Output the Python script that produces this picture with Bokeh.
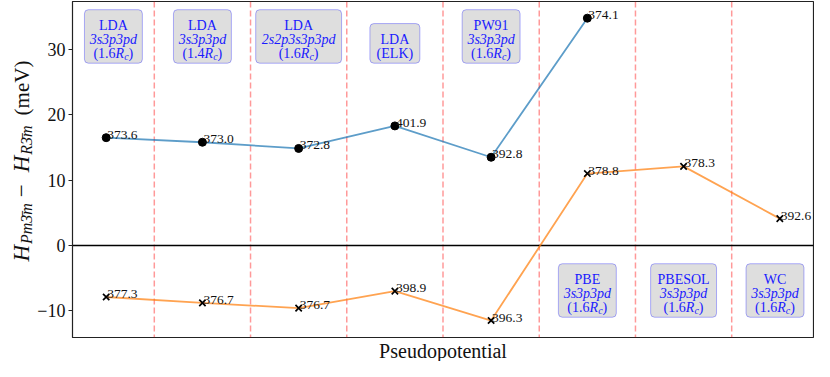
from bokeh.plotting import figure
from bokeh.models import Span, BoxAnnotation, Label, FixedTicker, Range1d, Title
from bokeh.layouts import row
from bokeh.embed import file_html
from bokeh.resources import INLINE
from bokeh.core.properties import value

# ---------------- data ----------------
categories = [0, 1, 2, 3, 4, 5, 6, 7]
blue_x = [0, 1, 2, 3, 4, 5]
blue_y = [16.5, 15.8, 14.85, 18.3, 13.5, 34.8]
blue_labels = ["373.6", "373.0", "372.8", "401.9", "392.8", "374.1"]
orange_x = [0, 1, 2, 3, 4, 5, 6, 7]
orange_y = [-7.9, -8.8, -9.6, -7.0, -11.5, 11.0, 12.1, 4.1]
orange_labels = ["377.3", "376.7", "376.7", "398.9", "396.3", "378.8", "378.3", "392.6"]
yticks = [-10, 0, 10, 20, 30]
ytick_labels = ["\u221210", "0", "10", "20", "30"]

box_x = [0.075, 1, 2, 3, 4, 5, 6, 6.95]
box_y = [27.9, 27.9, 27.9, 27.9, 27.9, -11.0, -11.0, -11.0]
box_title = ["LDA", "LDA", "LDA", "LDA", "PW91", "PBE", "PBESOL", "WC"]
box_config = ["3s3p3pd", "3s3p3pd", "2s2p3s3p3pd", "(ELK)", "3s3p3pd", "3s3p3pd", "3s3p3pd", "3s3p3pd"]
box_rc = ["1.6", "1.4", "1.6", None, "1.6", "1.6", "1.6", "1.6"]
box_width_px = [58, 58, 86, 50, 58, 58, 66, 58]

# ---------------- layout ----------------
LW = 34                      # width of the side strip holding the y-axis title
W, H = 814 - LW, 361
BL, BR, BT, BB = 37, 1, 1, 21
X0, X1 = -0.35, 7.35
Y0, Y1 = -14.1, 37.35
FONT = "Liberation Serif"
QFONT = "'Liberation Serif', serif"
pxx = (W - BL - BR) / (X1 - X0)
pxy = (H - BT - BB) / (Y1 - Y0)

p = figure(width=W, height=H, x_range=Range1d(X0, X1), y_range=Range1d(Y0, Y1),
           output_backend="svg", toolbar_location=None, title=None,
           min_border_left=BL, min_border_right=BR, min_border_top=BT, min_border_bottom=BB)
p.xaxis.visible = False
p.xgrid.visible = False
p.ygrid.visible = False
p.outline_line_color = "#222222"
p.outline_line_width = 1.2
p.outline_line_alpha = 1.0
p.background_fill_color = "white"
p.border_fill_color = "white"

p.add_layout(Title(text="Pseudopotential", align="center", text_font=QFONT,
                   text_font_size="20px", text_font_style="normal", text_color="#111111",
                   standoff=0, offset=0), "below")

ax = p.yaxis[0]
ax.ticker = FixedTicker(ticks=yticks)
ax.major_label_overrides = dict(zip(yticks, ytick_labels))
ax.major_label_text_font = QFONT
ax.major_label_text_font_size = "18px"
ax.major_label_text_color = "#111111"
ax.major_tick_out = 4
ax.major_tick_in = 0
ax.minor_tick_out = 0
ax.minor_tick_in = 0
ax.axis_line_color = "#222222"
ax.major_tick_line_color = "#222222"
ax.major_label_standoff = 3

# separators
for c in categories[:-1]:
    p.add_layout(Span(location=c + 0.5, dimension="height", line_color="red", line_alpha=0.4,
                      line_dash="6 3", line_width=1.5, level="underlay"))
p.add_layout(Span(location=0, dimension="width", line_color="black", line_width=1.5, level="underlay"))

# series
p.line(blue_x, blue_y, line_color="#1f77b4", line_alpha=0.72, line_width=1.8)
p.scatter(blue_x, blue_y, marker="circle", size=8, fill_color="black", line_color="black")
p.line(orange_x, orange_y, line_color="#ff7f0e", line_alpha=0.72, line_width=1.8)
p.scatter(orange_x, orange_y, marker="x", size=9, line_color="black", line_width=1.7)

p.text(blue_x, blue_y, text=blue_labels, text_font=value(FONT), text_font_size="13.5px",
       text_align="left", text_baseline="alphabetic", x_offset=1, y_offset=-3, text_color="#111111")
p.text(orange_x, orange_y, text=orange_labels, text_font=value(FONT), text_font_size="13.5px",
       text_align="left", text_baseline="alphabetic", x_offset=1, y_offset=-3, text_color="#111111")

# annotation boxes
BLUE = "#1a1aff"
for bx, by, t, cfg, rc, wpx in zip(box_x, box_y, box_title, box_config, box_rc, box_width_px):
    n = 3 if rc else 2
    hpx = 12 + 14 * n
    p.add_layout(BoxAnnotation(left=bx - wpx / 2 / pxx, right=bx + wpx / 2 / pxx,
                               bottom=by, top=by + hpx / pxy,
                               fill_color="#dedede", fill_alpha=1.0,
                               line_color="blue", line_alpha=0.3, line_width=1,
                               border_radius=4))
    lines = [(t, "normal"), (cfg, "normal" if cfg.startswith("(") else "italic")]
    for k, (txt, st) in enumerate(lines):
        p.add_layout(Label(x=bx, y=by, y_offset=10 + 14 * (n - 1 - k), text=txt,
                           text_font=FONT, text_font_size="14px", text_font_style=st,
                           text_color=BLUE, text_align="center", text_baseline="alphabetic"))
    if rc:
        x0 = -20
        pieces = [("(" + rc, "normal", "14px", 0, 22.2), ("R", "italic", "14px", 0, 8.6),
                  ("c", "italic", "10px", -3, 4.4), (")", "normal", "14px", 0, 4.7)]
        for txt, st, fs, dy, w in pieces:
            p.add_layout(Label(x=bx, y=by, x_offset=x0, y_offset=10 + dy, text=txt,
                               text_font=FONT, text_font_size=fs, text_font_style=st,
                               text_color=BLUE, text_align="left", text_baseline="alphabetic"))
            x0 += w

# y-axis title strip, built from pieces (rotated), centred on the plot frame
lab = figure(width=LW, height=H, x_range=Range1d(0, 1), y_range=Range1d(0, 1),
             output_backend="svg", toolbar_location=None, title=None,
             min_border=0, min_border_left=0, min_border_right=0, min_border_top=0, min_border_bottom=0)
lab.axis.visible = False
lab.grid.visible = False
lab.outline_line_color = None
lab.background_fill_color = "white"
lab.border_fill_color = "white"

# (text, style, size, baseline shift, gap before, advance)
ypieces = [("H", "italic", "23px", 0, 0, 17.5),
           ("Pm3\u0304m", "italic", "16px", 5, 0, 40.9),
           ("\u2212", "normal", "23px", 0, 6, 19.0),
           ("H", "italic", "23px", 0, 6, 17.5),
           ("R3\u0304m", "italic", "16px", 5, 0, 29.3),
           ("(meV)", "normal", "21px", 0, 10, 55.0)]
total = sum(pc[4] + pc[5] for pc in ypieces)
off = (H / 2 - (BT + (H - BT - BB) / 2)) - 1.5 - total / 2
for txt, st, fs, dx, gap, adv in ypieces:
    off += gap
    lab.add_layout(Label(x=0, y=0.5, x_offset=21 + dx, y_offset=off, text=txt,
                         angle=90, angle_units="deg",
                         text_font=FONT, text_font_size=fs, text_font_style=st,
                         text_color="#111111", text_align="left", text_baseline="alphabetic"))
    off += adv

layout = row(lab, p, spacing=0)
open("out.html", "w").write(file_html(layout, INLINE))
